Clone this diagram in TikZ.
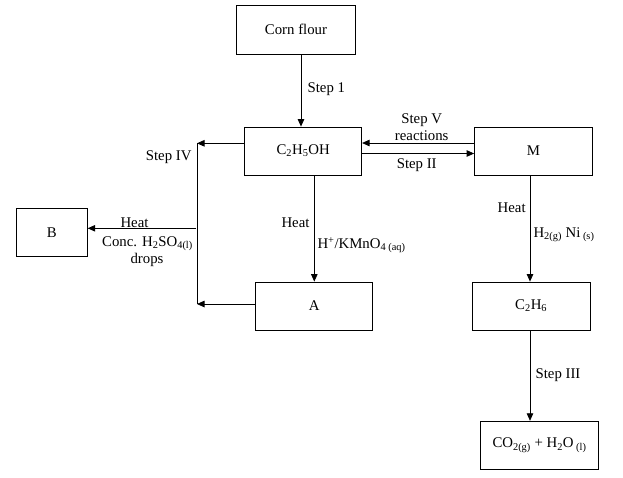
\documentclass[tikz,border=0pt]{standalone}
\usepackage{fontspec}
\setmainfont{Liberation Serif}
\usetikzlibrary{arrows.meta}
\tikzset{
    box/.style={draw, line width=0.8pt, minimum width=118pt, minimum height=48pt, inner sep=0pt},
    flow/.style={line width=0.8pt, -{Triangle[length=7.5pt,width=6.5pt]}},
    lbl/.style={inner sep=0pt}
}

\begin{document}
\begin{tikzpicture}[x=1pt, y=-1pt, font=\fontsize{14.8}{17}\selectfont]
    \useasboundingbox (0,0) rectangle (623,477);
    % boxes
    \node[box, minimum width=119pt, minimum height=49pt] (corn) at (296,29.5) {Corn flour};
    \node[box, minimum width=117pt] (ethanol) at (303.2,151) {C\textsubscript{2}H\textsubscript{5}OH};
    \node[box] (m) at (533.5,151) {M};
    \node[box, minimum width=71pt] (b) at (51.8,232.5) {B};
    \node[box, minimum width=117pt] (a) at (314.3,306) {A};
    \node[box] (ethane) at (531.2,306) {C\textsubscript{2}H\textsubscript{6}};
    \node[box] (products) at (539.5,445.2) {CO\textsubscript{2(g)} + H\textsubscript{2}O\textsubscript{ (l)}};
    % loop on the left
    \coordinate (looptop) at (197,143.3);
    \coordinate (loopbot) at (197,304);
    \coordinate (loopmid) at (196,228.3);
    \draw[flow] (ethanol.west |- looptop) -- (looptop);
    \draw[line width=0.8pt] (looptop) -- (loopbot);
    \draw[flow] (a.west |- loopbot) -- (loopbot);
    \draw[flow] (loopmid) -- (b.east |- loopmid);
    % arrows between boxes
    \draw[flow] ([xshift=5pt]corn.south) -- ([xshift=5pt]corn.south |- ethanol.north);
    \draw[flow] (ethanol.south -| a.north) -- (a.north);
    \draw[flow] ([yshift=8pt]m.west) -- ([yshift=8pt]m.west -| ethanol.east);
    \draw[flow] ([yshift=-2.5pt]ethanol.east) -- ([yshift=-2.5pt]ethanol.east -| m.west);
    \draw[flow] ([xshift=-3.5pt]m.south) -- ([xshift=-3.5pt]m.south |- ethane.north);
    \draw[flow] ([xshift=-1.2pt]ethane.south) -- ([xshift=-1.2pt]ethane.south |- products.north);
    % labels
    \node[lbl] (step1) at (326.3,89.3) {Step 1};
    \node[lbl] (step4) at (168.7,157.3) {Step IV};
    \node[lbl] (heatb) at (134.5,222.7) {Heat};
    \node[lbl] (conc) at (147.5,244) {Conc. H\textsubscript{2}SO\textsubscript{4(l)}};
    \node[lbl] (drops) at (147,260) {drops};
    \node[lbl] (heata) at (295.5,222.7) {Heat};
    \node[lbl, anchor=west] (kmno4) at (317.3,245) {H\textsuperscript{+}/KMnO\textsubscript{4 (aq)}};
    \node[lbl] (step5) at (421.7,120) {Step V};
    \node[lbl] (reactions) at (421.7,136) {reactions};
    \node[lbl] (step2) at (416.7,165) {Step II};
    \node[lbl] (heatm) at (511.7,208) {Heat};
    \node[lbl, anchor=west] (h2ni) at (533.3,235) {H\textsubscript{2(g)} Ni\textsubscript{ (s)}};
    \node[lbl] (step3) at (558,375) {Step III};
\end{tikzpicture}
\end{document}
